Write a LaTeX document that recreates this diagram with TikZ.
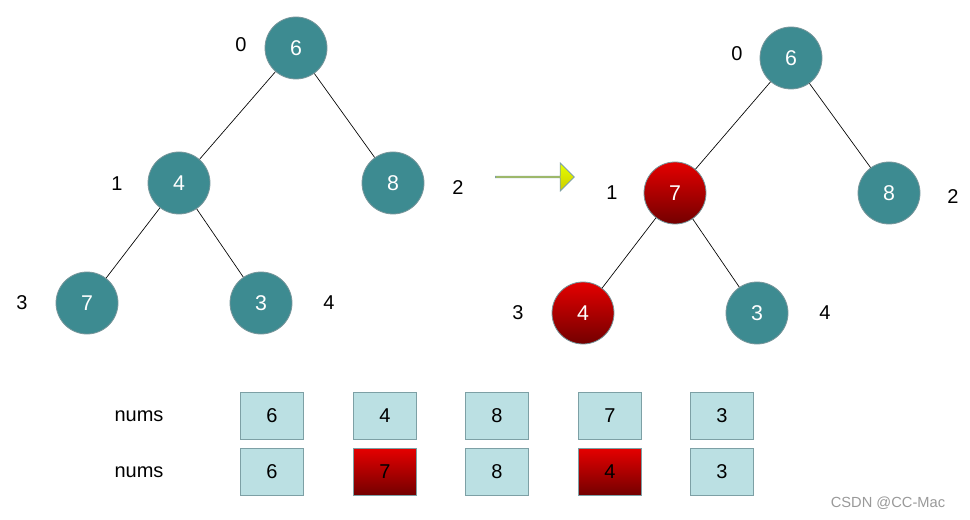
\documentclass[tikz,border=0pt]{standalone}
\usepackage{fontspec}
\setmainfont{Liberation Sans}
\usetikzlibrary{shapes.arrows}
\definecolor{teal1}{RGB}{61,139,145}
\definecolor{tealb}{RGB}{120,150,155}
\definecolor{boxf}{RGB}{187,224,227}
\definecolor{boxb}{RGB}{125,160,165}
\definecolor{rtop}{RGB}{228,0,0}
\definecolor{rbot}{RGB}{115,0,0}
\begin{document}
\begin{tikzpicture}[x=0.75pt,y=-0.75pt,
  tn/.style={circle,minimum size=46.5pt,inner sep=0,fill=teal1,draw=tealb,line width=0.6pt,text=white,font=\fontsize{16}{18}\selectfont},
  rn/.style={tn,top color=rtop,bottom color=rbot},
  lb/.style={font=\fontsize{15}{18}\selectfont},
  bx/.style={rectangle,minimum width=47pt,minimum height=35pt,inner sep=0,fill=boxf,draw=boxb,line width=0.6pt,font=\fontsize{15}{18}\selectfont},
  rbx/.style={bx,top color=rtop,bottom color=rbot},
  ed/.style={line width=0.5pt}]
\useasboundingbox (0,0) rectangle (970,520);
% left tree
\node[tn] (a0) at (296,48) {6};
\node[tn] (a1) at (179,183) {4};
\node[tn] (a2) at (393,183) {8};
\node[tn] (a3) at (87,303) {7};
\node[tn] (a4) at (261,303) {3};
\draw[ed] (a0)--(a1); \draw[ed] (a0)--(a2); \draw[ed] (a1)--(a3); \draw[ed] (a1)--(a4);
\node[lb] (l0) at (241,45) {0};
\node[lb] (l1) at (117,184) {1};
\node[lb] (l2) at (458,188) {2};
\node[lb] (l3) at (22,303) {3};
\node[lb] (l4) at (329,303) {4};
% right tree
\node[tn] (b0) at (791,58) {6};
\node[rn] (b1) at (675,193) {7};
\node[tn] (b2) at (889,193) {8};
\node[rn] (b3) at (583,313) {4};
\node[tn] (b4) at (757,313) {3};
\draw[ed] (b0)--(b1); \draw[ed] (b0)--(b2); \draw[ed] (b1)--(b3); \draw[ed] (b1)--(b4);
\node[lb] (m0) at (737,54) {0};
\node[lb] (m1) at (612,193) {1};
\node[lb] (m2) at (953,197) {2};
\node[lb] (m3) at (518,313) {3};
\node[lb] (m4) at (825,313) {4};
% arrow
\node[single arrow,minimum height=59pt,minimum width=21pt,single arrow head extend=5pt,inner sep=0,
  top color=yellow!90!green,bottom color=yellow!60!olive,draw=boxb,line width=0.6pt] (arr) at (534.5,177) {};
% arrays
\node[lb] (n1) at (139,416) {nums};
\node[lb] (n2) at (139,472) {nums};
\node[bx] (p0) at (272,416) {6};
\node[bx] (p1) at (385,416) {4};
\node[bx] (p2) at (497,416) {8};
\node[bx] (p3) at (610,416) {7};
\node[bx] (p4) at (722,416) {3};
\node[bx] (q0) at (272,472) {6};
\node[rbx] (q1) at (385,472) {7};
\node[bx] (q2) at (497,472) {8};
\node[rbx] (q3) at (610,472) {4};
\node[bx] (q4) at (722,472) {3};
\node[font=\fontsize{11}{13}\selectfont,text=gray!80] (wm) at (888,503) {CSDN @CC-Mac};
\end{tikzpicture}
\end{document}
